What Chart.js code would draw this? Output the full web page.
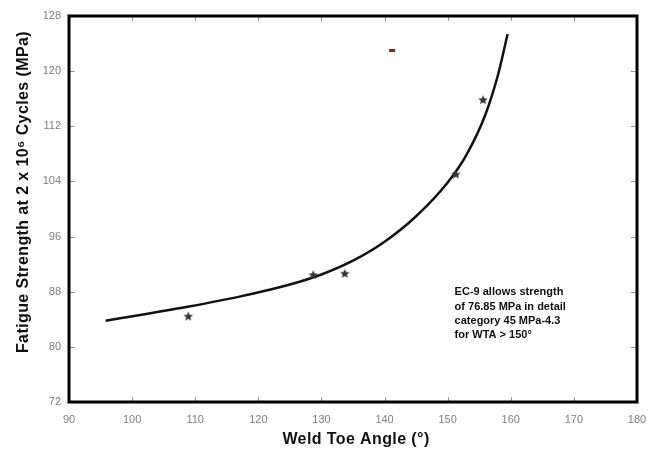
<!DOCTYPE html>
<html>
<head>
<meta charset="utf-8">
<script src="https://cdn.jsdelivr.net/npm/chart.js@4.4.0/dist/chart.umd.min.js"></script>
<style>
  html, body { margin: 0; padding: 0; background: #fff; }
  #wrap { width: 660px; height: 453px; }
</style>
</head>
<body>
<div id="wrap"><canvas id="grafico"></canvas></div>
<script>
// Ensayos (estrellas)
const anguloMedido = [108.9, 128.7, 133.7, 151.3, 155.6];
const resistenciaMedida = [84.4, 90.4, 90.6, 105.0, 115.8];

// Curva de ajuste
const anguloCurva = [95.8, 102, 109, 117, 125, 130, 135, 140, 145, 150, 153, 156, 158, 159.5];
const resistenciaCurva = [83.8, 84.73, 85.85, 87.29, 89.05, 90.5, 92.5, 95.25, 98.95, 103.85, 107.9, 113.75, 119.55, 125.4];

// Marca suelta (roja)
const anguloMarca = [141.2];
const resistenciaMarca = [123.0];

const ticksX = [90, 100, 110, 120, 130, 140, 150, 160, 170, 180];
const ticksY = [72, 80, 88, 96, 104, 112, 120, 128];

const tituloX = 'Weld Toe Angle (°)';
const tituloY = 'Fatigue Strength at 2 x 10⁶ Cycles (MPa)';
const nota = ['EC-9 allows strength', 'of 76.85 MPa in detail', 'category 45 MPa-4.3', 'for WTA > 150°'];

const fuente = "'Liberation Sans', Arial, sans-serif";

// estrella rellena de 5 puntas para los ensayos
function crearEstrella(r, color) {
    const c = document.createElement('canvas');
    c.width = c.height = r * 2 + 2;
    const ctx = c.getContext('2d');
    ctx.translate(r + 1, r + 1);
    ctx.beginPath();
    for (let i = 0; i < 10; i++) {
        const rad = i % 2 ? r * 0.45 : r;
        const a = -Math.PI / 2 + i * Math.PI / 5;
        ctx.lineTo(rad * Math.cos(a), rad * Math.sin(a));
    }
    ctx.closePath();
    ctx.fillStyle = color;
    ctx.fill();
    return c;
}

// marco grueso, marcas interiores, titulos y nota
const marcoPlugin = {
    id: 'marco',
    afterDraw(chart) {
        const { ctx, chartArea: a, scales: { x, y } } = chart;
        ctx.save();

        // marcas hacia dentro en los cuatro lados
        ctx.strokeStyle = '#999';
        ctx.lineWidth = 1;
        ctx.beginPath();
        ticksX.forEach(v => {
            const px = Math.round(x.getPixelForValue(v)) + 0.5;
            ctx.moveTo(px, a.bottom); ctx.lineTo(px, a.bottom - 5);
            ctx.moveTo(px, a.top); ctx.lineTo(px, a.top + 5);
        });
        ticksY.forEach(v => {
            const py = Math.round(y.getPixelForValue(v)) + 0.5;
            ctx.moveTo(a.left, py); ctx.lineTo(a.left + 6, py);
            ctx.moveTo(a.right, py); ctx.lineTo(a.right - 6, py);
        });
        ctx.stroke();

        ctx.strokeStyle = '#000';
        ctx.lineWidth = 3;
        ctx.strokeRect(a.left, a.top, a.right - a.left, a.bottom - a.top);

        // titulos de los ejes
        ctx.fillStyle = '#111';
        ctx.font = 'bold 16px ' + fuente;
        ctx.letterSpacing = '0.4px';
        ctx.textAlign = 'center';
        ctx.textBaseline = 'middle';
        ctx.fillText(tituloX, 356, 440);

        ctx.save();
        ctx.translate(24, 192);
        ctx.rotate(-Math.PI / 2);
        ctx.fillText(tituloY, 0, 0);
        ctx.restore();

        // nota dentro del area
        ctx.letterSpacing = '0px';
        ctx.font = 'bold 11px ' + fuente;
        ctx.textAlign = 'left';
        const nx = x.getPixelForValue(151.1);
        const ny = y.getPixelForValue(87.9);
        nota.forEach((linea, i) => ctx.fillText(linea, nx, ny + i * 14.3));

        ctx.restore();
    }
};

const graph = document.querySelector('#grafico');

const data = {
    datasets: [
        {
            label: 'Curva',
            data: anguloCurva.map((v, i) => ({ x: v, y: resistenciaCurva[i] })),
            showLine: true,
            borderColor: '#111',
            borderWidth: 2.5,
            pointRadius: 0,
            cubicInterpolationMode: 'monotone',
            order: 2
        },
        {
            label: 'Ensayos',
            data: anguloMedido.map((v, i) => ({ x: v, y: resistenciaMedida[i] })),
            showLine: false,
            pointStyle: crearEstrella(5, '#333'),
            order: 1
        },
        {
            label: 'Marca',
            data: anguloMarca.map((v, i) => ({ x: v, y: resistenciaMarca[i] })),
            showLine: false,
            pointStyle: 'line',
            pointRadius: 3,
            borderColor: '#7d2b22',
            borderWidth: 3,
            order: 0
        }
    ]
};

const config = {
    type: 'scatter',
    data: data,
    options: {
        responsive: true,
        maintainAspectRatio: false,
        animation: false,
        layout: { padding: { left: 0, right: 23, top: 16, bottom: 0 } },
        plugins: {
            legend: { display: false },
            tooltip: { enabled: false }
        },
        scales: {
            x: {
                type: 'linear',
                min: 90,
                max: 180,
                afterBuildTicks: s => { s.ticks = ticksX.map(v => ({ value: v })); },
                afterFit: s => { s.height = 51; },
                grid: { display: false },
                border: { display: false },
                ticks: { color: '#808080', font: { family: fuente, size: 11 }, padding: 3, maxRotation: 0 }
            },
            y: {
                type: 'linear',
                min: 72,
                max: 128,
                afterBuildTicks: s => { s.ticks = ticksY.map(v => ({ value: v })); },
                afterFit: s => { s.width = 69; },
                grid: { display: false },
                border: { display: false },
                ticks: { color: '#808080', font: { family: fuente, size: 11 }, padding: 0 }
            }
        }
    },
    plugins: [marcoPlugin]
};

new Chart(graph, config);
</script>
</body>
</html>
